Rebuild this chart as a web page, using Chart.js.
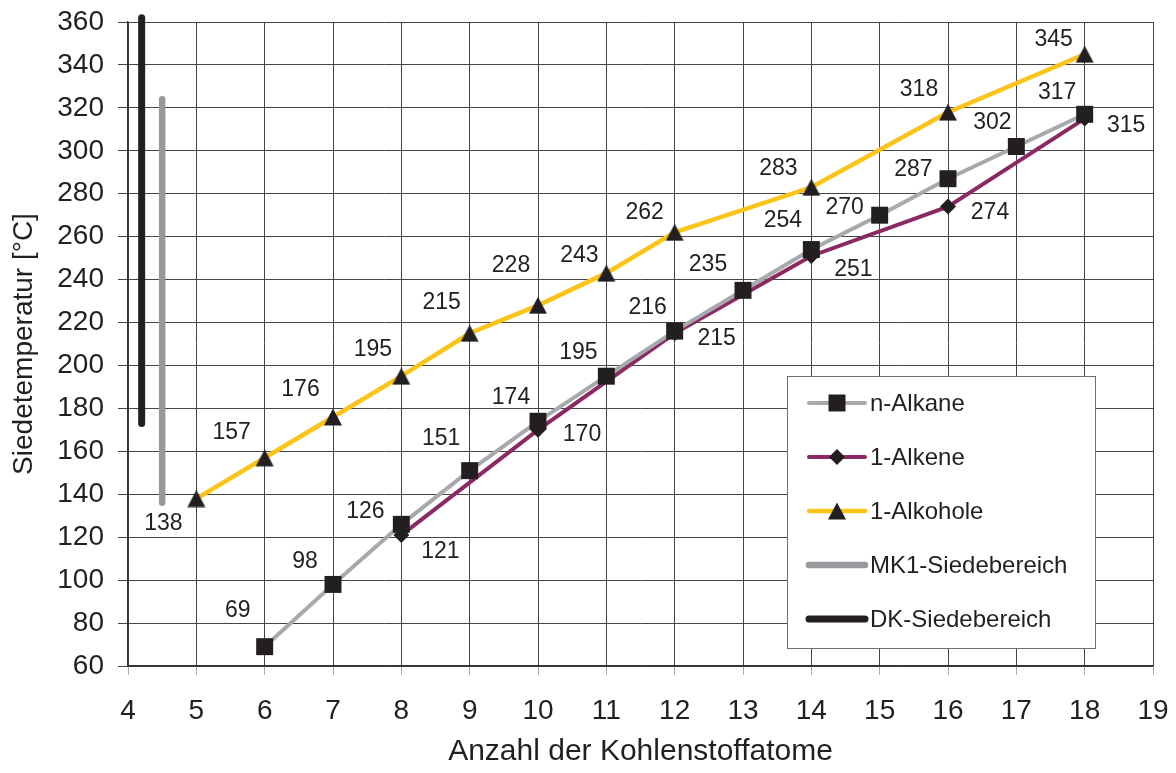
<!DOCTYPE html>
<html><head><meta charset="utf-8">
<script src="https://cdn.jsdelivr.net/npm/chart.js@4.4.1/dist/chart.umd.min.js"></script>
<style>html,body{margin:0;padding:0;background:#fff;}canvas{display:block}</style>
</head><body>
<canvas id="c" width="1176" height="773"></canvas>
<script>
// ---- data ----
const alkaneC = [6, 7, 8, 9, 10, 11, 12, 13, 14, 15, 16, 17, 18];
const alkaneT = [69, 98, 126, 151, 174, 195, 216, 235, 254, 270, 287, 302, 317];
const alkeneC = [8, 10, 12, 14, 16, 18];
const alkeneT = [121, 170, 215, 251, 274, 315];
const alkoholC = [5, 6, 7, 8, 9, 10, 11, 12, 14, 16, 18];
const alkoholT = [138, 157, 176, 195, 215, 228, 243, 262, 283, 318, 345];
const mk1C = [4.5, 4.5];
const mk1T = [136, 324];
const dkC = [4.2, 4.2];
const dkT = [173, 362];
const seriesNames = ['n-Alkane', '1-Alkene', '1-Alkohole', 'MK1-Siedebereich', 'DK-Siedebereich'];
const xTickValues = [4, 5, 6, 7, 8, 9, 10, 11, 12, 13, 14, 15, 16, 17, 18, 19];
const yTickValues = [60, 80, 100, 120, 140, 160, 180, 200, 220, 240, 260, 280, 300, 320, 340, 360];
const xTitle = 'Anzahl der Kohlenstoffatome';
const yTitle = 'Siedetemperatur [°C]';

// ---- label placement (layout only) ----
const alkaneLabelOffsets = [[-27,-36],[-28,-23],[-36,-13],[-28.5,-32],[-27,-24],[-28,-24],[-27,-23],[-35,-26],[-28.5,-29],[-35,-8],[-34.6,-8.7],[-24,-24],[-27.5,-22]];
const alkeneLabelOffsets = [[39,17],[44,5],[42,5.5],[42,14],[42,5.7],[41.5,6.6]];
const alkoholLabelOffsets = [[-33,25.5],[-33,-25],[-32.5,-27],[-28.5,-27],[-28,-31],[-27,-40],[-27,-18],[-30,-20],[-33,-19],[-29,-23],[-31,-14.5]];

const FONT = '"Liberation Sans", Arial, Helvetica, sans-serif';
const INK = '#231f20';

function pts(xs, ys) { return xs.map((x, i) => ({ x: x, y: ys[i] })); }

// triangle marker image (bbox-centred)
const tri = document.createElement('canvas');
tri.width = 20; tri.height = 18;
(function () {
  const g = tri.getContext('2d');
  g.fillStyle = INK;
  g.beginPath(); g.moveTo(1, 17.5); g.lineTo(10, 0.5); g.lineTo(19, 17.5); g.closePath(); g.fill();
})();

const labelPlugin = {
  id: 'valueLabels',
  afterDatasetsDraw(chart) {
    const ctx = chart.ctx;
    ctx.save();
    ctx.font = '23px ' + FONT;
    ctx.fillStyle = INK; ctx.textAlign = 'center'; ctx.textBaseline = 'middle';
    chart.data.datasets.forEach((ds, i) => {
      if (!ds.labelOffsets) return;
      const meta = chart.getDatasetMeta(i);
      meta.data.forEach((p, j) => {
        const o = ds.labelOffsets[j];
        ctx.fillText(String(ds.data[j].y), p.x + o[0], p.y + o[1]);
      });
    });
    ctx.restore();
  }
};

const boxLegend = {
  id: 'boxLegend',
  afterDraw(chart) {
    const ctx = chart.ctx, ca = chart.chartArea;
    const L = ca.right - 366, T = ca.top + 354, W = 308, H = 272;
    ctx.save();
    ctx.fillStyle = '#fff'; ctx.fillRect(L, T, W, H);
    ctx.strokeStyle = '#6d6e71'; ctx.lineWidth = 1; ctx.strokeRect(L + 0.5, T + 0.5, W, H);
    chart.data.datasets.forEach((ds, i) => {
      const y = T + 27 + i * 54;
      ctx.strokeStyle = ds.borderColor; ctx.lineWidth = ds.borderWidth; ctx.lineCap = 'round';
      ctx.beginPath(); ctx.moveTo(L + 22, y); ctx.lineTo(L + 78, y); ctx.stroke();
      if (ds.pointRadius > 0) {
        ctx.fillStyle = INK;
        Chart.helpers.drawPoint(ctx, { pointStyle: ds.pointStyle, radius: ds.pointRadius, rotation: 0, borderWidth: 0 }, L + 50, y);
      }
      ctx.fillStyle = INK; ctx.font = '24px ' + FONT; ctx.textAlign = 'left'; ctx.textBaseline = 'middle';
      ctx.fillText(ds.label, L + 83, y + 1);
    });
    ctx.restore();
  }
};

new Chart(document.getElementById('c'), {
  type: 'line',
  data: {
    datasets: [
      { label: seriesNames[0], data: pts(alkaneC, alkaneT), borderColor: '#a7a9ac', borderWidth: 4,
        pointStyle: 'rect', pointRadius: 12, pointBackgroundColor: INK, pointBorderWidth: 0, order: 0,
        labelOffsets: alkaneLabelOffsets },
      { label: seriesNames[1], data: pts(alkeneC, alkeneT), borderColor: '#8b2a62', borderWidth: 4,
        pointStyle: 'rectRot', pointRadius: 8, pointBackgroundColor: INK, pointBorderWidth: 0, order: 1,
        labelOffsets: alkeneLabelOffsets },
      { label: seriesNames[2], data: pts(alkoholC, alkoholT), borderColor: '#fcc419', borderWidth: 4.5,
        pointStyle: tri, pointRadius: 10, pointBackgroundColor: INK, pointBorderWidth: 0, order: 2,
        labelOffsets: alkoholLabelOffsets },
      { label: seriesNames[3], data: pts(mk1C, mk1T), borderColor: '#98999c', borderWidth: 6.5,
        borderCapStyle: 'round', pointRadius: 0, order: 3, clip: false },
      { label: seriesNames[4], data: pts(dkC, dkT), borderColor: INK, borderWidth: 7,
        borderCapStyle: 'round', pointRadius: 0, order: 4, clip: false }
    ]
  },
  options: {
    responsive: false, animation: false, devicePixelRatio: 1, events: [],
    layout: { padding: { top: 22, right: 23, bottom: 0, left: 0 } },
    elements: { line: { tension: 0 } },
    plugins: { legend: { display: false }, tooltip: { enabled: false } },
    scales: {
      x: {
        type: 'linear', min: 4, max: 19,
        afterBuildTicks: s => { s.ticks = xTickValues.map(v => ({ value: v })); },
        afterFit: s => { s.height = 107; s.paddingLeft = 0; s.paddingRight = 0; },
        ticks: { font: { family: FONT, size: 28 }, color: INK, padding: 19, maxRotation: 0, autoSkip: false },
        grid: { color: '#444', lineWidth: 1, tickLength: 9, tickColor: '#aaa' },
        border: { color: '#333', width: 1.5 },
        title: { display: true, text: xTitle, color: INK, font: { family: FONT, size: 30, lineHeight: 1 }, padding: { top: 0, bottom: 6 } }
      },
      y: {
        type: 'linear', min: 60, max: 360,
        afterBuildTicks: s => { s.ticks = yTickValues.map(v => ({ value: v })); },
        afterFit: s => { s.width = 128; s.paddingTop = 0; s.paddingBottom = 0; },
        ticks: { font: { family: FONT, size: 28 }, color: INK, padding: 14 },
        grid: { color: '#444', lineWidth: 1, tickLength: 10, tickColor: '#444' },
        border: { color: '#333', width: 1.5 },
        title: { display: true, text: yTitle, color: INK, font: { family: FONT, size: 28, lineHeight: 1 }, padding: { top: 10, bottom: 0 } }
      }
    }
  },
  plugins: [labelPlugin, boxLegend]
});
</script>
</body></html>
